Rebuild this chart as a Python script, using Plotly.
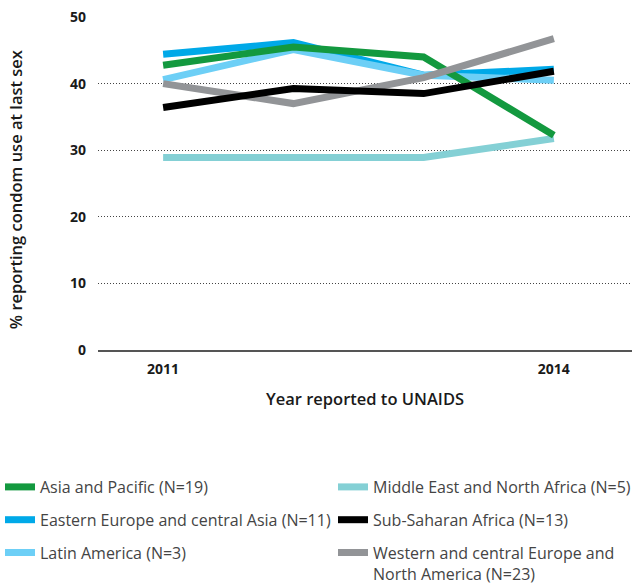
import plotly.graph_objects as go

years = [2011, 2012, 2013, 2014]

series_names = [
    "Middle East and North Africa (N=5)",
    "Eastern Europe and central Asia (N=11)",
    "Latin America (N=3)",
    "Asia and Pacific (N=19)",
    "Western and central Europe and<br>North America (N=23)",
    "Sub-Saharan Africa (N=13)",
]
mena = [28.9, 28.9, 28.9, 31.75]
eeca = [44.4, 46.15, 41.25, 42.15]
latam = [40.6, 45.1, 41.25, 40.5]
asia = [42.75, 45.5, 44.0, 32.25]
wcena = [40.0, 37.0, 40.9, 46.75]
ssa = [36.4, 39.25, 38.5, 41.85]
series_values = [mena, eeca, latam, asia, wcena, ssa]
series_colors = ["#84d0d5", "#00a9e8", "#6dcff6", "#13993f", "#929497", "#000000"]
series_legend = ["legend2", "legend", "legend", "legend", "legend2", "legend2"]
series_rank = [1, 2, 3, 1, 3, 2]

xtick_vals = [2011, 2014]
xtick_text = ["2011", "2014"]
x_title = "Year reported to UNAIDS"
y_title = "% reporting condom use at last sex"

FONT = "Open Sans"

fig = go.Figure()
for name, vals, col, lg, rk in zip(series_names, series_values, series_colors, series_legend, series_rank):
    fig.add_trace(go.Scatter(
        x=years, y=vals, mode="lines", name=name,
        line=dict(color=col, width=7),
        legend=lg, legendrank=rk, legendgroup=name,
        hoverinfo="skip",
    ))

legend_common = dict(
    orientation="v", xref="container", yref="container",
    xanchor="left", yanchor="top", valign="top",
    font=dict(family=FONT, size=16, color="#444444"),
    bgcolor="rgba(0,0,0,0)", tracegroupgap=9, itemwidth=30,
    traceorder="grouped",
)

fig.update_layout(
    width=632, height=585,
    margin=dict(l=98, r=0, t=17, b=235, autoexpand=False),
    paper_bgcolor="white", plot_bgcolor="white",
    font=dict(family=FONT, color="#1a1a1a"),
    showlegend=True,
    legend=dict(x=0.0, y=1 - 470 / 585, **legend_common),
    legend2=dict(x=333 / 632, y=1 - 470 / 585, **legend_common),
    xaxis=dict(
        range=[2010.5, 2014.6], tickvals=xtick_vals, ticktext=xtick_text,
        showgrid=False, zeroline=False, showline=True, linecolor="#555555", linewidth=1.5,
        ticks="", ticklabelstandoff=5,
        tickfont=dict(family=FONT, size=14, weight=700, color="#1a1a1a"),
        title=dict(text=x_title, standoff=17,
                   font=dict(family=FONT, size=16.5, weight=600, color="#1a1a1a")),
        fixedrange=True,
    ),
    yaxis=dict(
        range=[0, 50], dtick=10, showgrid=True, gridcolor="#444444", griddash="1px,2px", gridwidth=1,
        zeroline=False, showline=False, ticks="", ticklabelstandoff=11,
        tickfont=dict(family=FONT, size=14, weight=700, color="#1a1a1a"),
        fixedrange=True,
    ),
    annotations=[dict(
        text=y_title, textangle=-90, showarrow=False,
        xref="paper", yref="paper", x=(15 - 98) / 534, y=0.48,
        xanchor="center", yanchor="middle",
        font=dict(family=FONT, size=16.5, weight=600, color="#1a1a1a"),
    )],
)

fig.write_html("out.html", config={"displayModeBar": False},
               post_script="document.body.style.margin='0';")
